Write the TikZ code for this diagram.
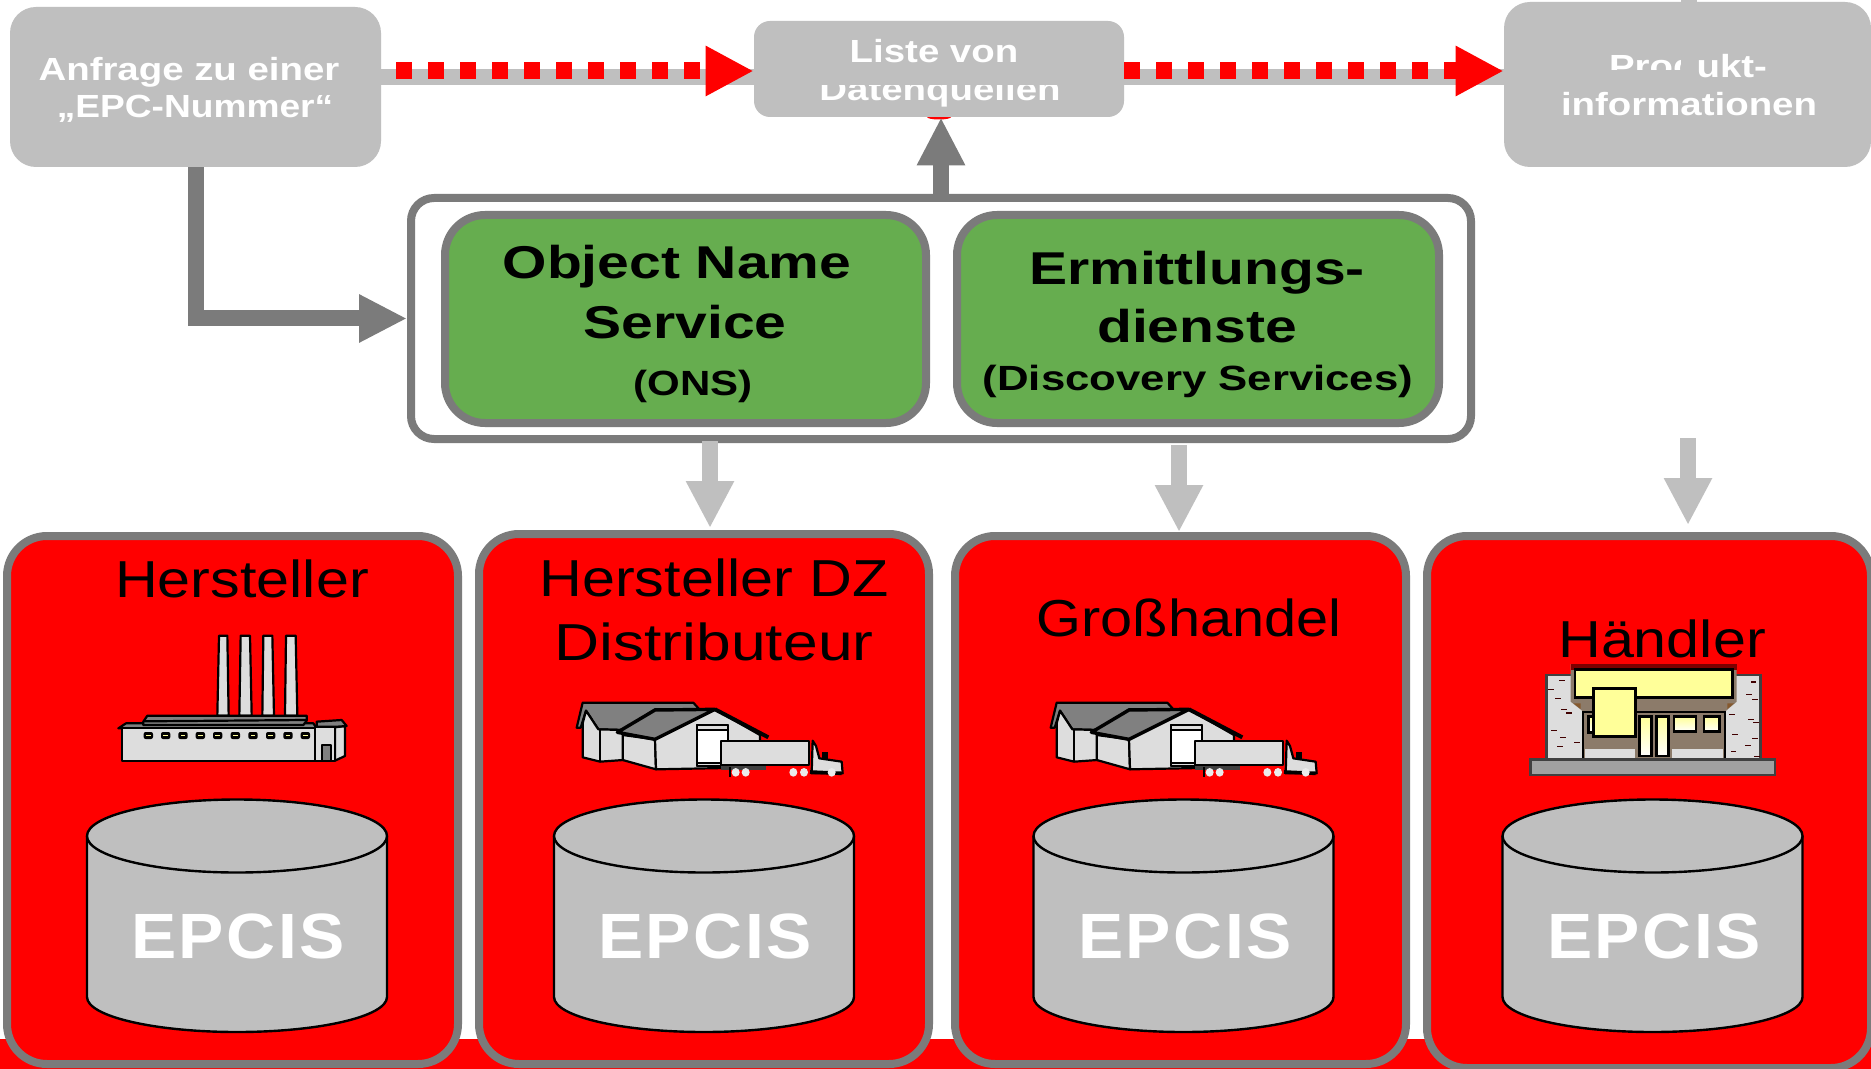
\documentclass[tikz,border=0pt]{standalone}
\usepackage{fontspec}
\usetikzlibrary{arrows.meta,calc}
\setmainfont{Liberation Sans}
\newfontfamily\wideA[FakeStretch=1.2]{Liberation Sans}
\newfontfamily\wideB[FakeStretch=1.25]{Liberation Sans}
\newfontfamily\wideC[FakeStretch=1.14]{Liberation Sans}
\newfontfamily\wideD[FakeStretch=1.06,LetterSpace=4]{Liberation Sans}
\newfontfamily\wideE[FakeStretch=1.16]{Liberation Sans}
\newfontfamily\wideF[FakeStretch=1.11]{Liberation Sans}
\newfontfamily\wideG[FakeStretch=1.24]{Liberation Sans}
\definecolor{lgray}{HTML}{BFBFBF}
\definecolor{dgray}{HTML}{7B7B7B}
\definecolor{okgreen}{HTML}{66AD4F}
\definecolor{wallgray}{HTML}{DDDDDD}
\definecolor{roofgray}{HTML}{808080}
\definecolor{signyellow}{HTML}{FFFF99}
\definecolor{shopbrown}{HTML}{8C7B6A}
\definecolor{brick}{HTML}{400000}
\tikzset{
  graybox/.style={fill=lgray,draw=none,inner sep=0pt,rounded corners=13pt},
  smallbox/.style={fill=lgray,draw=none,inner sep=0pt,rounded corners=8pt},
  frame/.style={fill=white,draw=dgray,line width=4pt,inner sep=0pt,rounded corners=11.5pt},
  service/.style={fill=okgreen,draw=dgray,line width=4pt,inner sep=0pt,rounded corners=20pt},
  panel/.style={fill=red,draw=dgray,line width=4pt,inner sep=0pt,rounded corners=20pt},
  band/.style={draw=lgray,line width=8pt},
  redflow/.style={draw=red,line width=8.5pt,dash pattern=on 8pt off 8pt,-{Triangle[length=24pt,width=23.5pt,fill=red,color=red]}},
  darkarrow/.style={draw=dgray,line width=8pt,-{Triangle[length=24pt,width=22.5pt,fill=dgray,color=dgray]}},
  lightarrow/.style={draw=lgray,line width=8pt,-{Triangle[length=23.5pt,width=22.5pt,fill=lgray,color=lgray]}},
  whitelabel/.style={anchor=base,inner sep=0pt,text=white,font=\wideA\bfseries\fontsize{16}{16}\selectfont},
  biglabel/.style={anchor=base,inner sep=0pt,text=black,font=\wideG\bfseries\fontsize{23}{23}\selectfont},
  sublabel/.style={anchor=base,inner sep=0pt,text=black,font=\wideA\bfseries\fontsize{17.5}{17.5}\selectfont},
  panellabel/.style={anchor=base,inner sep=0pt,text=black,font=\wideC\fontsize{26}{26}\selectfont},
  epcislabel/.style={anchor=base,inner sep=0pt,text=white,font=\wideD\bfseries\fontsize{32}{32}\selectfont},
  icon/.style={draw=black,line width=1.1pt,line join=round},
  cyl/.style={fill=lgray,draw=black,line width=1.2pt},
  shopwin/.style={draw=black,line width=1.2pt,top color=signyellow,bottom color=white},
}
\newcommand{\epcisdb}[3]{%
  \draw[cyl] (#1-150,836) -- (#1-150,997) arc (180:0:150 and 35) -- (#1+150,836);
  \draw[cyl] (#1,836) ellipse (150 and 36.5);
  \node[epcislabel] (#3) at (#2,958) {EPCIS};
}
\newcommand{\depot}[1]{%
  \begin{scope}[shift={(#1,680)},scale=0.33333]
    \draw[icon,fill=roofgray] (50,143) -- (68,68) -- (400,68) -- (418,88) -- (285,88) -- (190,150) -- (115,148) -- (78,92) -- (62,143) -- cycle;
    \draw[icon,fill=wallgray] (78,92) -- (115,148) -- (190,150) -- (190,240) -- (120,245) -- (68,232) -- (68,130) -- cycle;
    \draw[icon] (120,148) -- (120,245);
    \draw[icon,fill=wallgray] (188,165) -- (285,178) -- (288,268) -- (188,240) -- cycle;
    \draw[icon,fill=wallgray] (285,178) -- (465,88) -- (600,165) -- (600,262) -- (288,268) -- cycle;
    \draw[icon,fill=roofgray,line width=1.7pt] (172,157) -- (285,90) -- (465,88) -- (285,178) -- cycle;
    \draw[icon,line width=2pt] (465,88) -- (625,172);
    \draw[icon,fill=white] (410,135) rectangle (505,258);
    \draw[icon,fill=wallgray] (410,135) rectangle (505,149);
    \draw[icon,fill=wallgray] (410,250) rectangle (505,258);
    \draw[icon,fill=wallgray] (758,182) -- (768,198) -- (778,235) -- (845,245) -- (848,280) -- (755,280) -- cycle;
    \fill[black] (785,215) rectangle (805,238);
    \draw[icon,line width=1.8pt] (750,276) -- (845,280);
    \draw[draw=black!75,fill=black!75] (485,258) rectangle (615,267);
    \draw[draw=black,line width=1pt] (510,262) -- (510,290);
    \draw[icon,fill=wallgray] (482,182) rectangle (747,255);
    \foreach \wx in {527,557,700,732,815} {\fill[white!92!black] (\wx,277) ellipse (12 and 13);}
  \end{scope}
}
\begin{document}
\begin{tikzpicture}[x=0.5pt,y=-0.5pt]
\useasboundingbox (0,0) rectangle (1871,1069);
\clip (0,0) rectangle (1871,1069);
\fill[white] (0,0) rectangle (1871,1069);
\fill[red] (0,1039) rectangle (1871,1069);

% top row
\fill[red] (939,117) ellipse (12 and 2.5);
\node[graybox,minimum width=185.5pt,minimum height=80pt] (anfrage) at (195.5,87) {};
\node[smallbox,minimum width=185pt,minimum height=48pt] (liste) at (939,69) {};
\node[graybox,minimum width=183.5pt,minimum height=82.5pt] (produkt) at (1687.5,84.5) {};
\draw[band] ($(anfrage.east)+(0,-10)$) -- ($(liste.west)+(0,8)$);
\draw[band] ($(liste.east)+(0,8)$) -- ($(produkt.west)+(0,-7.5)$);
\draw[redflow,dash phase=8.5pt] ($(anfrage.east)+(0,-16)$) -- ($(liste.west)+(0,2)$);
\draw[redflow] ($(liste.east)+(0,2)$) -- ($(produkt.west)+(0,-13.5)$);

\node[whitelabel] (t1) at (189,81) {Anfrage zu einer};
\node[anchor=base,inner sep=0pt,text=white,font=\wideE\bfseries\fontsize{16}{16}\selectfont] (t2) at (195,118) {„EPC-Nummer“};
\node[whitelabel] (t3) at (934,63) {Liste von};
\node[whitelabel] (t4) at (940,101) {Datenquellen};
\node[whitelabel] (t5) at (1688,78) {Produkt-};
\node[whitelabel] (t6) at (1689,116) {informationen};
\fill[lgray] (800,68) rectangle (1080,85);
\fill[lgray] (1600,70) rectangle (1681,85);
\fill[lgray] (1681,0) rectangle (1696.5,85);

% service frame
\node[frame,minimum width=530pt,minimum height=120.5pt] (frame) at (941,318.5) {};
\node[service,minimum width=240.5pt,minimum height=104pt] (ons) at (685.5,319) {};
\node[service,minimum width=241pt,minimum height=104pt] (disc) at (1198,319) {};
\node[biglabel] (o1) at (677,279) {Object Name};
\node[biglabel] (o2) at (685,338) {Service};
\node[sublabel] (o3) at (693,395) {(ONS)};
\node[biglabel] (e1) at (1197,285) {Ermittlungs-};
\node[biglabel] (e2) at (1197,343) {dienste};
\node[anchor=base,inner sep=0pt,font=\wideB\bfseries\fontsize{17.5}{17.5}\selectfont] (e3) at (1198,390) {(Discovery Services)};

\draw[darkarrow] (anfrage.south) |- (frame.west);
\draw[darkarrow] (frame.north) -- (frame.north |- liste.south);

% panels
\node[panel,minimum width=225.5pt,minimum height=264pt] (p1) at (232.5,800) {};
\node[panel,minimum width=225pt,minimum height=265pt] (p2) at (704,799) {};
\node[panel,minimum width=225.5pt,minimum height=264pt] (p3) at (1180.5,800) {};
\node[panel,minimum width=222pt,minimum height=266pt] (p4) at (1649,802) {};

\coordinate (a1s) at (710,441);  \coordinate (a1e) at (710,528);
\coordinate (a2s) at (1179,445); \coordinate (a2e) at (1179,532);
\coordinate (a3s) at (1688,438); \coordinate (a3e) at (1688,525);
\draw[lightarrow] (a1s) -- (a1e);
\draw[lightarrow] (a2s) -- (a2e);
\draw[lightarrow] (a3s) -- (a3e);

\node[panellabel] (h1) at (242,597) {Hersteller};
\node[panellabel] (h2) at (714,596) {Hersteller DZ};
\node[anchor=base,inner sep=0pt,font=\wideA\fontsize{26}{26}\selectfont] (h3) at (714,660) {Distributeur};
\node[anchor=base,inner sep=0pt,font=\wideF\fontsize{26}{26}\selectfont] (h4) at (1189,636) {Großhandel};
\node[panellabel] (h5) at (1662,657) {Händler};

% factory
\begin{scope}[shift={(100,620)},scale=0.33333]
  \foreach \a/\b/\c/\d in {357/382/352/386,422/450/418/455,490/517/487/522,558/587/555/592}
    {\draw[icon,fill=wallgray] (\c,287) -- (\a,47) -- (\b,47) -- (\d,287) -- cycle;}
  \draw[icon,fill=roofgray] (55,325) -- (78,310) -- (640,310) -- (650,325) -- cycle;
  \draw[icon,fill=roofgray] (130,305) -- (142,287) -- (620,287) -- (620,302) -- (610,315) -- (130,315) -- cycle;
  \draw[icon] (132,304) -- (620,300);
  \draw[icon,fill=wallgray] (66,325) rectangle (645,422);
  \foreach \wx in {145,197,249,301,353,406,459,512,564,616} {
    \fill[black,rounded corners=1pt] (\wx-14,336) rectangle (\wx+14,357);
    \fill[signyellow] (\wx-7,345) rectangle (\wx+7,349);
  }
  \draw[icon,fill=wallgray] (705,322) -- (735,318) -- (735,408) -- (705,422) -- cycle;
  \draw[icon,fill=wallgray] (645,320) rectangle (705,422);
  \draw[icon,fill=roofgray] (650,305) -- (725,300) -- (740,318) -- (712,320) -- (650,320) -- cycle;
  \draw[icon,fill=roofgray] (665,375) rectangle (692,422);
\end{scope}

\depot{560}
\depot{1034}

% shop
\begin{scope}[shift={(1510,650)},scale=0.33333]
  \draw[draw=black!75,line width=1.3pt,fill=wallgray] (110,75) rectangle (752,328);
  \foreach \p/\q/\r in {147/165/91,115/132/118,135/152/146,153/170/178,168/185/189,124/140/242,150/167/262,192/210/277,142/158/290,723/738/96,708/725/133,727/743/148,657/674/193,714/731/208,730/746/218,666/683/253,726/743/265,705/722/286,663/678/304,732/750/319}
    {\draw[brick,line width=0.7pt] (\p,\r) -- (\q,\r);}
  \fill[shopbrown] (182,42) -- (680,42) -- (680,155) -- (645,185) -- (645,330) -- (220,330) -- (220,185) -- (182,155) -- cycle;
  \fill[black!30!red!70!black] (182,42) rectangle (680,60);
  \fill[wallgray] (225,297) rectangle (375,325);
  \fill[wallgray] (487,297) rectangle (640,325);
  \fill[brown!70!black] (190,160) -- (212,160) -- (212,177) -- cycle;
  \fill[brown!70!black] (652,160) -- (672,160) -- (652,177) -- cycle;
  \draw[draw=black,line width=1.1pt] (220,332) -- (220,187) -- (645,187) -- (645,332);
  \draw[shopwin] (235,200) rectangle (255,247);
  \draw[shopwin] (388,200) rectangle (425,318);
  \draw[shopwin] (440,200) rectangle (476,318);
  \draw[shopwin] (492,200) rectangle (558,245);
  \draw[shopwin] (582,200) rectangle (628,245);
  \draw[draw=black,line width=1.2pt,fill=signyellow] (195,58) rectangle (667,143);
  \draw[draw=black,line width=1.2pt,fill=signyellow] (250,115) rectangle (377,260);
  \draw[draw=black!75,line width=1.3pt,fill=black!37] (62,328) rectangle (795,375);
\end{scope}

% databases
\epcisdb{237}{238}{db1}
\epcisdb{704}{705}{db2}
\epcisdb{1183.5}{1185}{db3}
\epcisdb{1652.5}{1654}{db4}
\end{tikzpicture}
\end{document}
